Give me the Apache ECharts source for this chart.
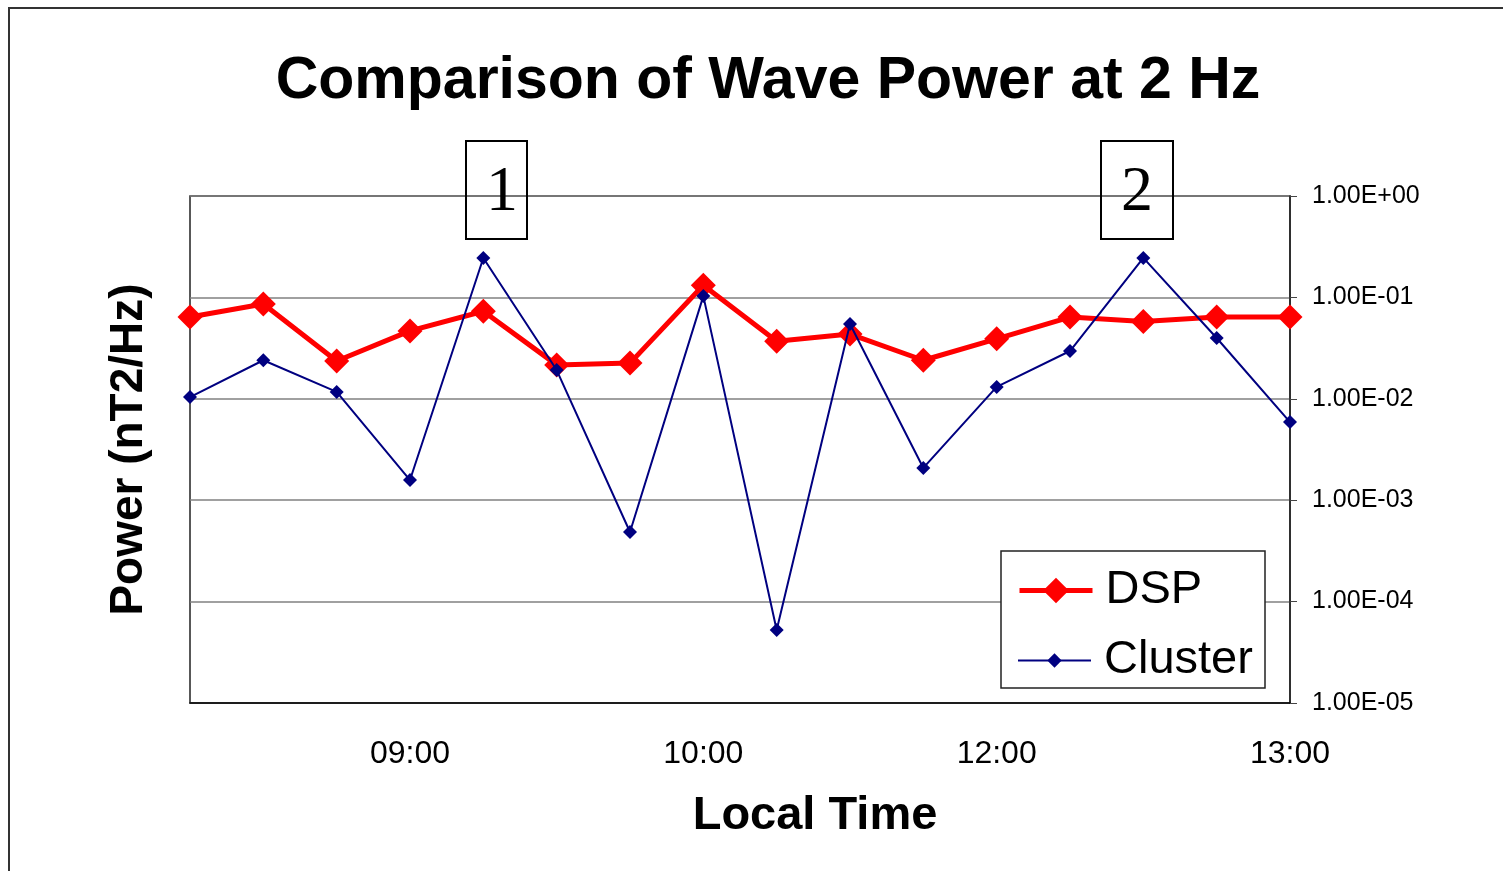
<!DOCTYPE html>
<html><head><meta charset="utf-8">
<script src="https://cdn.jsdelivr.net/npm/echarts@6/dist/echarts.min.js"></script>
<style>html,body{margin:0;padding:0;background:#fff}#c{width:1503px;height:871px}</style>
</head><body><div id="c"></div>
<script>
const xLabels = ['', '', '', '09:00', '', '', '', '10:00', '', '', '', '12:00', '', '', '', '13:00'];
const dsp = [0.064, 0.086, 0.0236, 0.0467, 0.073, 0.0216, 0.0225, 0.132, 0.037, 0.0435, 0.024, 0.039, 0.064, 0.058, 0.064, 0.064];
const cluster = [0.0104, 0.024, 0.0117, 0.00158, 0.245, 0.0192, 0.000486, 0.103, 0.0000525, 0.0547, 0.00208, 0.0131, 0.0296, 0.245, 0.0398, 0.0059];
const annotations = ['1', '2'];

const chart = echarts.init(document.getElementById('c'));
function fmt(v){
  const e = Math.round(Math.log10(v));
  const s = e < 0 ? '-' : '+';
  const a = Math.abs(e);
  return '1.00E' + s + (a < 10 ? '0' + a : a);
}
const FONT = 'Liberation Sans, Arial';
const SERIF = '64px "Liberation Serif", "Times New Roman", serif';
chart.setOption({
  animation: false,
  backgroundColor: '#fff',
  title: {
    text: 'Comparison of Wave Power at 2 Hz',
    left: 763, top: 47, textAlign: 'center',
    textStyle: {fontFamily: FONT, fontWeight: 'bold', fontSize: 59, color: '#000'}
  },
  grid: {left: 190, right: 213, top: 196, bottom: 168, show: true, borderColor: '#222', borderWidth: 1.5},
  xAxis: {
    type: 'category', data: xLabels, boundaryGap: false,
    name: 'Local Time', nameLocation: 'middle', nameGap: 90,
    nameTextStyle: {fontFamily: FONT, fontWeight: 'bold', fontSize: 47, color: '#000', padding: [0, 0, 0, 150]},
    axisLine: {show: true, lineStyle: {color: '#000', width: 1.5}},
    axisTick: {show: false},
    axisLabel: {interval: 0, fontFamily: FONT, fontSize: 32, color: '#000', margin: 35},
    splitLine: {show: false}
  },
  yAxis: {
    type: 'log', logBase: 10, min: 1e-5, max: 1, position: 'right',
    name: 'Power (nT2/Hz)', nameLocation: 'middle', nameRotate: 90,
    nameTextStyle: {fontFamily: FONT, fontWeight: 'bold', fontSize: 46, color: '#000'},
    nameGap: -1184,
    axisLine: {show: true, lineStyle: {color: '#222', width: 1.5}},
    axisTick: {show: true, inside: false, length: 7, lineStyle: {color: '#444'}},
    axisLabel: {formatter: fmt, fontFamily: FONT, fontSize: 25, color: '#000', margin: 22},
    splitLine: {show: true, lineStyle: {color: '#808080', width: 1.5}}
  },
  legend: [
    {data: ['DSP'], left: 1017, top: 567, padding: 0, orient: 'vertical', itemWidth: 73, itemHeight: 32, itemGap: 0,
     lineStyle: {width: 5},
     textStyle: {fontFamily: FONT, fontSize: 47, color: '#000', padding: [0, 0, 0, 8]}},
    {data: ['Cluster'], left: 1017, top: 637, padding: 0, orient: 'vertical', itemWidth: 73, itemHeight: 18, itemGap: 0,
     lineStyle: {width: 2},
     textStyle: {fontFamily: FONT, fontSize: 47, color: '#000', padding: [0, 0, 0, 8]}}
  ],
  series: [
    {name: 'DSP', type: 'line', data: dsp, symbol: 'diamond', symbolSize: 25, color: '#FF0000',
     lineStyle: {color: '#FF0000', width: 5}, itemStyle: {color: '#FF0000'}, z: 2},
    {name: 'Cluster', type: 'line', data: cluster, symbol: 'diamond', symbolSize: 14, color: '#000080',
     lineStyle: {color: '#000080', width: 2}, itemStyle: {color: '#000080'}, z: 3}
  ],
  graphic: [
    {type: 'rect', shape: {x: 9, y: 8, width: 1520, height: 900}, style: {fill: 'none', stroke: '#333', lineWidth: 2}, z: 0, silent: true},
    {type: 'rect', shape: {x: 1001, y: 551, width: 264, height: 137}, style: {fill: '#fff', stroke: '#222', lineWidth: 1.5}, z: 1},
    {type: 'rect', shape: {x: 466, y: 141, width: 61, height: 98}, style: {fill: 'none', stroke: '#000', lineWidth: 2}, z: 10},
    {type: 'text', style: {x: 502, y: 193, text: annotations[0], align: 'center', verticalAlign: 'middle', font: SERIF, fill: '#000'}, z: 10},
    {type: 'rect', shape: {x: 1101, y: 141, width: 72, height: 98}, style: {fill: 'none', stroke: '#000', lineWidth: 2}, z: 10},
    {type: 'text', style: {x: 1137, y: 193, text: annotations[1], align: 'center', verticalAlign: 'middle', font: SERIF, fill: '#000'}, z: 10}
  ]
});
</script></body></html>
